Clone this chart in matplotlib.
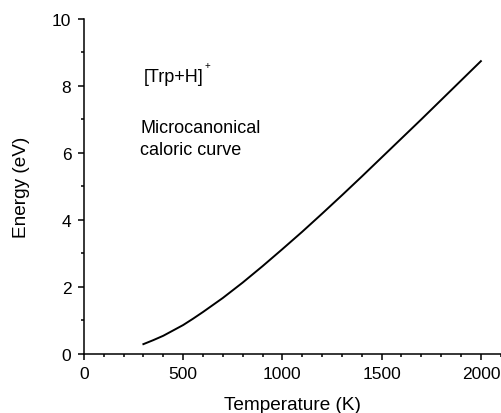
from matplotlib import pyplot as plt
from matplotlib.ticker import MultipleLocator

plt.rcParams['font.family'] = ['Liberation Sans', 'DejaVu Sans']

temperature = [300, 350, 400, 450, 500, 550, 600, 700, 800, 900, 1000, 1100,
               1200, 1300, 1400, 1500, 1600, 1700, 1800, 1900, 2000]
energy = [0.28, 0.40, 0.53, 0.69, 0.85, 1.04, 1.24, 1.66, 2.12, 2.61, 3.12, 3.64,
          4.18, 4.73, 5.29, 5.86, 6.43, 7.00, 7.58, 8.16, 8.74]

fig = plt.figure(figsize=(5.02, 4.14), dpi=100)
ax = fig.add_axes([0.167, 0.1437, 0.8305, 0.808])

ax.plot(temperature, energy, color="black", linewidth=1.4)

ax.set_xlim(0, 2100)
ax.set_ylim(0, 10)
ax.xaxis.set_major_locator(MultipleLocator(500))
ax.xaxis.set_minor_locator(MultipleLocator(100))
ax.yaxis.set_major_locator(MultipleLocator(2))
ax.yaxis.set_minor_locator(MultipleLocator(1))

for side in ["top", "right"]:
    ax.spines[side].set_visible(False)
for side in ["left", "bottom"]:
    ax.spines[side].set_linewidth(1.1)
    ax.spines[side].set_clip_on(False)

ax.tick_params(which="major", direction="out", length=4.5, width=1.1, labelsize=12.5, pad=4.5)
ax.tick_params(which="minor", direction="out", length=2.3, width=1.1)

ax.set_xlabel("Temperature (K)", fontsize=13.7, labelpad=10.5)
ax.set_ylabel("Energy (eV)", fontsize=13.7, labelpad=16)

# label with a small raised plus
t1 = ax.text(300, 8.16, "[Trp+H]", fontsize=13, va="baseline", ha="left")
ax.annotate("+", xy=(1, 1), xycoords=t1, xytext=(1, 2), textcoords="offset points",
            fontsize=7, ha="left", va="center")
ax.text(283, 6.61, "Microcanonical", fontsize=13, va="baseline", ha="left")
ax.text(283, 5.96, "caloric curve", fontsize=13, va="baseline", ha="left")

fig.savefig("out.png", dpi=100)
